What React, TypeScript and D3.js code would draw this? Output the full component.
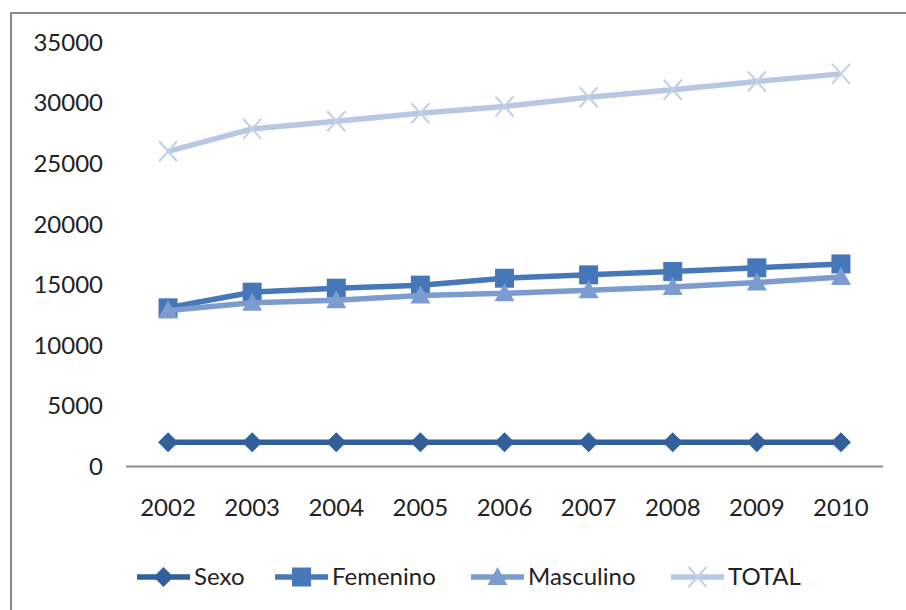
import { useEffect, useRef } from 'react';
import * as d3 from 'd3';

const years = ['2002', '2003', '2004', '2005', '2006', '2007', '2008', '2009', '2010'];
const sexo = [2002, 2003, 2004, 2005, 2006, 2007, 2008, 2009, 2010];
const femenino = [13100, 14390, 14720, 14970, 15540, 15820, 16100, 16400, 16720];
const masculino = [12880, 13510, 13720, 14120, 14300, 14540, 14820, 15180, 15640];
const total = [26020, 27870, 28500, 29160, 29720, 30480, 31100, 31780, 32410];
const yTicks = [0, 5000, 10000, 15000, 20000, 25000, 30000, 35000];

const seriesNames = ['Sexo', 'Femenino', 'Masculino', 'TOTAL'];
const seriesColors = ['#32609a', '#4678b9', '#7c9cd0', '#b8c7e2'];
const markerColors = ['#32609a', '#4678b9', '#7c9cd0', '#c3cfe5'];
const markerShapes = ['diamond', 'square', 'triangle', 'cross'];
const legendX = [137, 275, 471, 671];

const FONT = 'Lato, "Open Sans", sans-serif';

const App = () => {
  const ref = useRef<SVGSVGElement | null>(null);

  useEffect(() => {
    document.body.style.margin = '0';
    if (!ref.current) return;
    const svg = d3.select(ref.current);
    svg.selectAll('*').remove();
    const width = 906;
    const height = 610;
    svg.attr('width', width).attr('height', height);

    svg
      .append('rect')
      .attr('x', 0)
      .attr('y', 0)
      .attr('width', width)
      .attr('height', height)
      .attr('fill', '#fff');

    // chart frame (right and bottom edges fall outside the picture)
    svg
      .append('rect')
      .attr('x', 11)
      .attr('y', 13)
      .attr('width', width + 20)
      .attr('height', height + 20)
      .attr('fill', 'none')
      .attr('stroke', '#8a8a8a')
      .attr('stroke-width', 2);

    const x = d3.scaleBand().domain(years).range([126, 883]);
    const y = d3.scaleLinear().domain([0, 35000]).range([466.5, 42.5]);
    const cx = (i: number) => (x(years[i]) as number) + x.bandwidth() / 2;

    // y tick labels
    svg
      .append('g')
      .selectAll('text')
      .data(yTicks)
      .join('text')
      .attr('x', 103)
      .attr('y', (d) => y(d))
      .attr('dy', '0.35em')
      .attr('text-anchor', 'end')
      .attr('font-family', FONT)
      .attr('font-size', 24)
      .attr('fill', '#222')
      .text((d) => String(d));

    // category axis
    svg
      .append('line')
      .attr('x1', 126)
      .attr('x2', 883)
      .attr('y1', y(0))
      .attr('y2', y(0))
      .attr('stroke', '#8c8c8c')
      .attr('stroke-width', 2);

    svg
      .append('g')
      .selectAll('text')
      .data(years)
      .join('text')
      .attr('x', (_, i) => cx(i))
      .attr('y', 508)
      .attr('dy', '0.35em')
      .attr('text-anchor', 'middle')
      .attr('font-family', FONT)
      .attr('font-size', 24)
      .attr('fill', '#222')
      .text((d) => d);

    const allSeries = [sexo, femenino, masculino, total];

    const drawMarker = (
      g: d3.Selection<SVGGElement, unknown, null, undefined>,
      shape: string,
      px: number,
      py: number,
      color: string
    ) => {
      if (shape === 'diamond') {
        g.append('path')
          .attr('d', `M${px},${py - 10}L${px + 10},${py}L${px},${py + 10}L${px - 10},${py}Z`)
          .attr('fill', color);
      } else if (shape === 'square') {
        g.append('rect')
          .attr('x', px - 9.5)
          .attr('y', py - 9.5)
          .attr('width', 19)
          .attr('height', 19)
          .attr('fill', color);
      } else if (shape === 'triangle') {
        g.append('path')
          .attr('d', `M${px},${py - 10}L${px + 10},${py + 8}L${px - 10},${py + 8}Z`)
          .attr('fill', color);
      } else {
        g.append('path')
          .attr('d', `M${px - 9},${py - 10}L${px + 9},${py + 10}M${px + 9},${py - 10}L${px - 9},${py + 10}`)
          .attr('stroke', color)
          .attr('stroke-width', 2)
          .attr('fill', 'none');
      }
    };

    const line = d3
      .line<number>()
      .x((_, i) => cx(i))
      .y((d) => y(d));

    // series order as in the workbook: later series on top
    [0, 1, 2, 3].forEach((s) => {
      const g = svg.append('g');
      g.append('path')
        .datum(allSeries[s])
        .attr('fill', 'none')
        .attr('stroke', seriesColors[s])
        .attr('stroke-width', 5.5)
        .attr('stroke-linejoin', 'round')
        .attr('d', line);
      allSeries[s].forEach((v, i) => drawMarker(g, markerShapes[s], cx(i), y(v), markerColors[s]));
    });

    // legend
    const ly = 577;
    seriesNames.forEach((name, s) => {
      const g = svg.append('g');
      const x0 = legendX[s];
      g.append('line')
        .attr('x1', x0)
        .attr('x2', x0 + 53)
        .attr('y1', ly)
        .attr('y2', ly)
        .attr('stroke', seriesColors[s])
        .attr('stroke-width', 5.5);
      drawMarker(g, markerShapes[s], x0 + 26.5, ly, markerColors[s]);
      g.append('text')
        .attr('x', x0 + 57)
        .attr('y', ly)
        .attr('dy', '0.35em')
        .attr('font-family', FONT)
        .attr('font-size', 24)
        .attr('fill', '#222')
        .text(name);
    });
  }, []);

  return <svg ref={ref} />;
};

export default App;
